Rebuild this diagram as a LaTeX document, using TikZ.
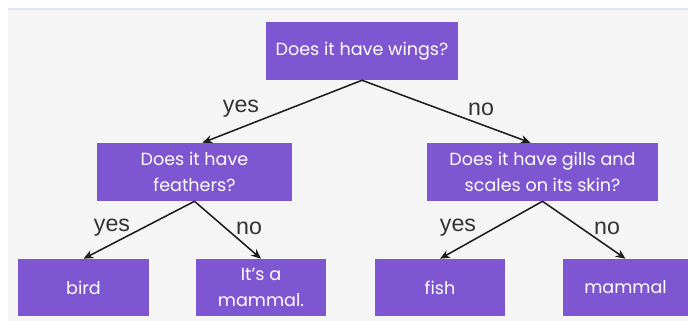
\documentclass[tikz,border=0pt]{standalone}
\usepackage{fontspec}
\setmainfont{Poppins}
\newfontfamily\labelfont{Liberation Sans}
\usepackage{xcolor}
\definecolor{boxpurple}{RGB}{127, 86, 209}
\definecolor{panelgrey}{RGB}{245, 245, 245}
\definecolor{edgeblue}{RGB}{220, 228, 245}
\definecolor{darkline}{RGB}{30, 30, 30}
\usetikzlibrary{arrows.meta, positioning}

\begin{document}
\begin{tikzpicture}[x=0.025cm, y=-0.025cm, >={Stealth[length=7pt, width=6pt]},
    qbox/.style={fill=boxpurple, text=white, inner sep=0pt, align=center,
        font=\fontsize{12.5}{18}\selectfont},
    branch/.style={->, line width=1.1pt, darkline},
    answer/.style={font=\labelfont\fontsize{16.5}{16.5}\selectfont, text=black!80, inner sep=1pt}]
    % background
    \useasboundingbox (0,0) rectangle (688,321);
    \fill[white] (0,0) rectangle (688,321);
    \fill[panelgrey] (8,8) rectangle (688,321);
    \fill[edgeblue] (8,8) rectangle (688,10);

    % question boxes
    \node[qbox, minimum width=192*0.025cm, minimum height=58*0.025cm] (wings) at (362,51) {Does it have wings?};
    \node[qbox, minimum width=195*0.025cm, minimum height=58*0.025cm] (feathers) at (194.5,172) {Does it have\\feathers?};
    \node[qbox, minimum width=231*0.025cm, minimum height=58*0.025cm] (gills) at (542.5,172) {Does it have gills and\\scales on its skin?};

    % answer boxes
    \node[qbox, minimum width=131*0.025cm, minimum height=57*0.025cm] (bird) at (83.5,287.5) {bird};
    \node[qbox, minimum width=130*0.025cm, minimum height=57*0.025cm] (mammalq) at (261,287.5) {It's a\\mammal.};
    \node[qbox, minimum width=130*0.025cm, minimum height=57*0.025cm] (fish) at (440,287.5) {fish};
    \node[qbox, minimum width=125*0.025cm, minimum height=57*0.025cm] (mammal) at (625.5,287.5) {mammal};

    % branches
    \draw[branch] (wings.south) -- ([xshift=8*0.025cm]feathers.north);
    \draw[branch] (wings.south) -- ([xshift=-12*0.025cm]gills.north);
    \draw[branch] (feathers.south) -- (bird.north);
    \draw[branch] (feathers.south) -- (mammalq.north);
    \draw[branch] (gills.south) -- (fish.north);
    \draw[branch] (gills.south) -- (mammal.north);

    % labels
    \node[answer] (yes1) at (241,109) {yes};
    \node[answer] (no1) at (481,109) {no};
    \node[answer] (yes2) at (112,228) {yes};
    \node[answer] (no2) at (249,228) {no};
    \node[answer] (yes3) at (458,228) {yes};
    \node[answer] (no3) at (607,228) {no};
\end{tikzpicture}
\end{document}
